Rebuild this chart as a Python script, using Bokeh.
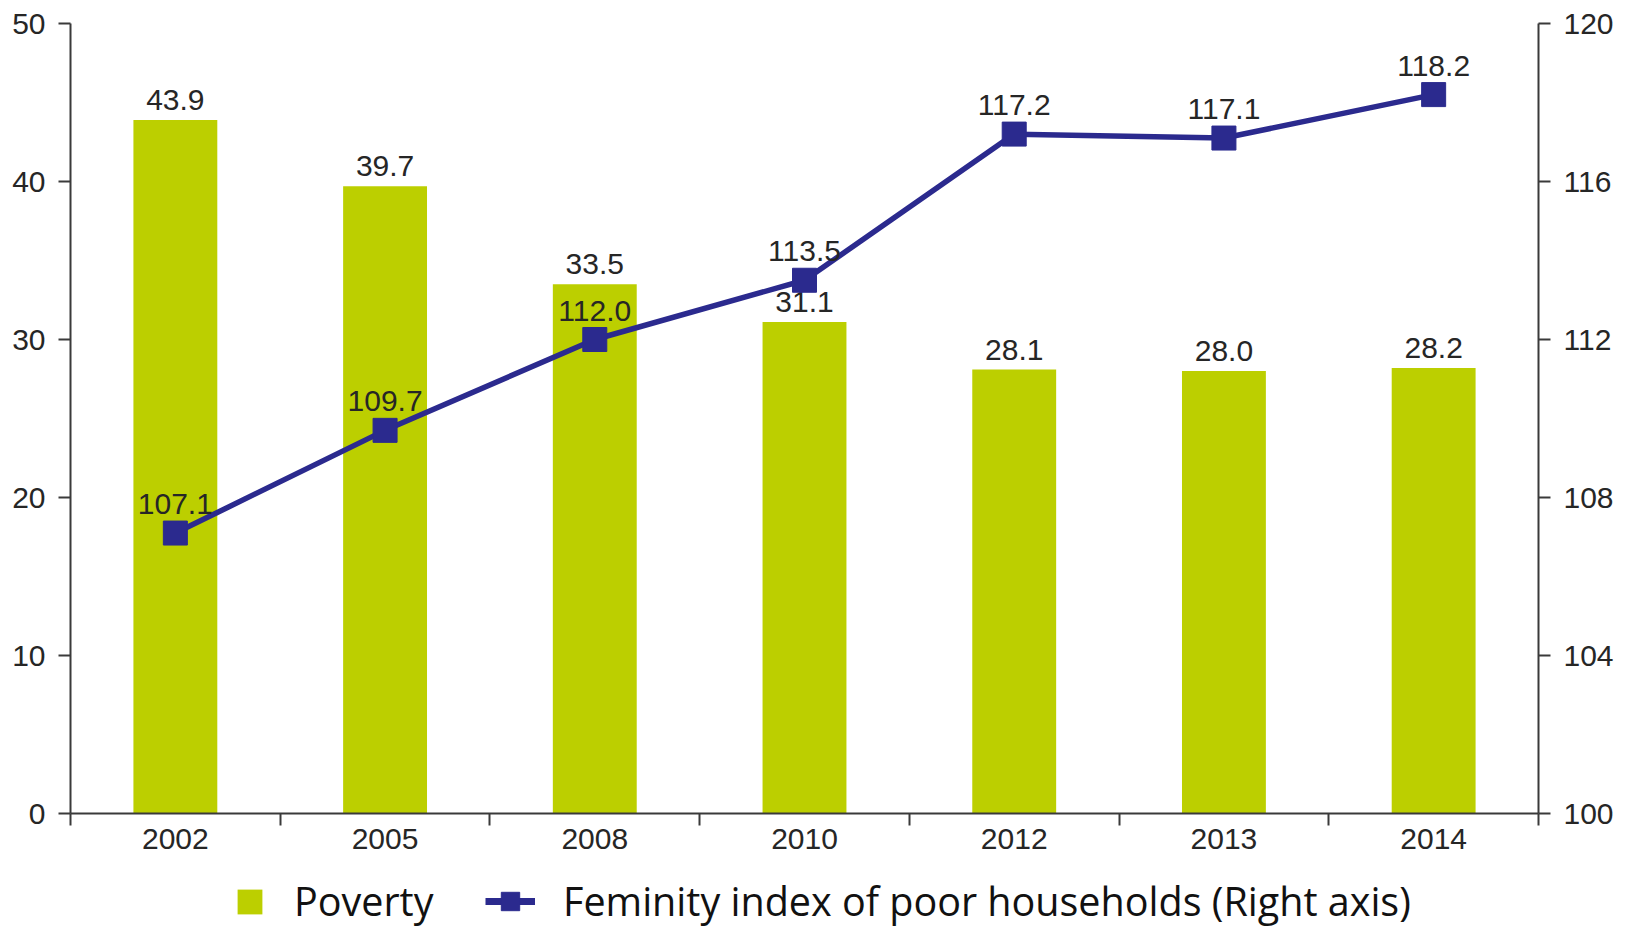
from bokeh.plotting import figure
from bokeh.layouts import column
from bokeh.models import (ColumnDataSource, Range1d, LinearAxis, FixedTicker,
                          Legend, LegendItem)
from bokeh.core.properties import value
from bokeh.embed import file_html
from bokeh.resources import INLINE

years = ["2002", "2005", "2008", "2010", "2012", "2013", "2014"]
poverty = [43.9, 39.7, 33.5, 31.1, 28.1, 28.0, 28.2]
feminity = [107.1, 109.7, 112.0, 113.5, 117.2, 117.1, 118.2]
left_ticks = [0, 10, 20, 30, 40, 50]
right_ticks = [100, 104, 108, 112, 116, 120]
label_poverty = "Poverty"
label_feminity = "Feminity index of poor households (Right axis)"

BAR = "#bccf00"
LINE = "#2b2a8e"
TXT = "#262626"
AX = "#3a3a3a"
FONT = "Liberation Sans"
LEGFONT = "Open Sans"

n = len(years)
centers = [i + 0.5 for i in range(n)]
bounds = [float(i) for i in range(n + 1)]

src = ColumnDataSource(dict(
    x=centers, pov=poverty, fem=feminity,
    pov_lbl=[f"{v:.1f}" for v in poverty],
    fem_lbl=[f"{v:.1f}" for v in feminity],
))

W = 1625
p = figure(width=W, height=863, output_backend="svg", toolbar_location=None,
           x_range=Range1d(0, n), y_range=Range1d(0, 50),
           min_border_left=70, min_border_right=87, min_border_top=23,
           min_border_bottom=50)
p.extra_y_ranges = {"right": Range1d(100, 120)}
p.outline_line_color = None
p.xgrid.visible = False
p.ygrid.visible = False

# x axis: labels at category centres, ticks at category boundaries
p.xaxis.ticker = FixedTicker(ticks=centers, minor_ticks=bounds)
p.xaxis.major_label_overrides = {c: y for c, y in zip(centers, years)}
p.xaxis.major_tick_out = 0
p.xaxis.major_tick_in = 0
p.xaxis.minor_tick_out = 12
p.xaxis.minor_tick_in = 0
p.xaxis.major_label_standoff = 3

p.yaxis.ticker = FixedTicker(ticks=left_ticks, minor_ticks=[])
p.yaxis.major_tick_out = 12
p.yaxis.major_tick_in = 0
p.yaxis.minor_tick_line_color = None
p.yaxis.major_label_standoff = 13

right = LinearAxis(y_range_name="right",
                   ticker=FixedTicker(ticks=right_ticks, minor_ticks=[]))
right.major_tick_out = 12
right.major_tick_in = 0
right.minor_tick_line_color = None
right.major_label_standoff = 13
p.add_layout(right, "right")

for ax in [p.xaxis[0], p.yaxis[0], right]:
    ax.axis_line_color = AX
    ax.axis_line_width = 2
    ax.major_tick_line_color = AX
    ax.major_tick_line_width = 2
    ax.minor_tick_line_width = 2
    ax.major_label_text_font = FONT
    ax.major_label_text_font_size = "30px"
    ax.major_label_text_color = TXT
p.xaxis.minor_tick_line_color = AX

bar_style = dict(fill_color=BAR, line_color=None)
line_style = dict(line_color=LINE, line_width=5.5)
mark_style = dict(marker="square", fill_color=LINE, line_color=LINE)

p.vbar(x="x", top="pov", width=0.4, bottom=0, source=src, **bar_style)
p.text(x="x", y="pov", text="pov_lbl", source=src, text_align="center",
       text_baseline="bottom", y_offset=-10, text_font=value(FONT),
       text_font_size="30px", text_color=TXT)

p.line(x="x", y="fem", source=src, y_range_name="right", **line_style)
p.scatter(x="x", y="fem", source=src, y_range_name="right", size=24,
          **mark_style)
p.text(x="x", y="fem", text="fem_lbl", source=src, y_range_name="right",
       text_align="center", text_baseline="bottom", y_offset=-19,
       text_font=value(FONT), text_font_size="30px", text_color=TXT)

# legend strip under the chart (its own frame, so the legend is not clipped);
# its ranges keep the data marks out of view, only the legend shows
q = figure(width=W, height=64, output_backend="svg", toolbar_location=None,
           x_range=Range1d(0, n), y_range=Range1d(1000, 1001), min_border=0)
q.axis.visible = False
q.xgrid.visible = False
q.ygrid.visible = False
q.outline_line_color = None
lb = q.vbar(x="x", top="pov", width=0.4, bottom=0, source=src, **bar_style)
ll = q.line(x="x", y="fem", source=src, line_color=LINE, line_width=7)
lm = q.scatter(x="x", y="fem", source=src, size=18, **mark_style)

common = dict(padding=0, margin=0, spacing=0, border_line_color=None,
              background_fill_alpha=0, label_text_font=LEGFONT,
              label_text_font_size="39.5px", label_text_color="#111111")
leg1 = Legend(items=[LegendItem(label=label_poverty, renderers=[lb])],
              location=(164, -1), glyph_width=31, glyph_height=31,
              label_standoff=29, **common)
leg2 = Legend(items=[LegendItem(label=label_feminity, renderers=[ll, lm])],
              location=(415, -1), glyph_width=50, glyph_height=46,
              label_standoff=28, **common)
q.add_layout(leg1)
q.add_layout(leg2)

open("out.html", "w").write(file_html(column(p, q, spacing=0), INLINE))
